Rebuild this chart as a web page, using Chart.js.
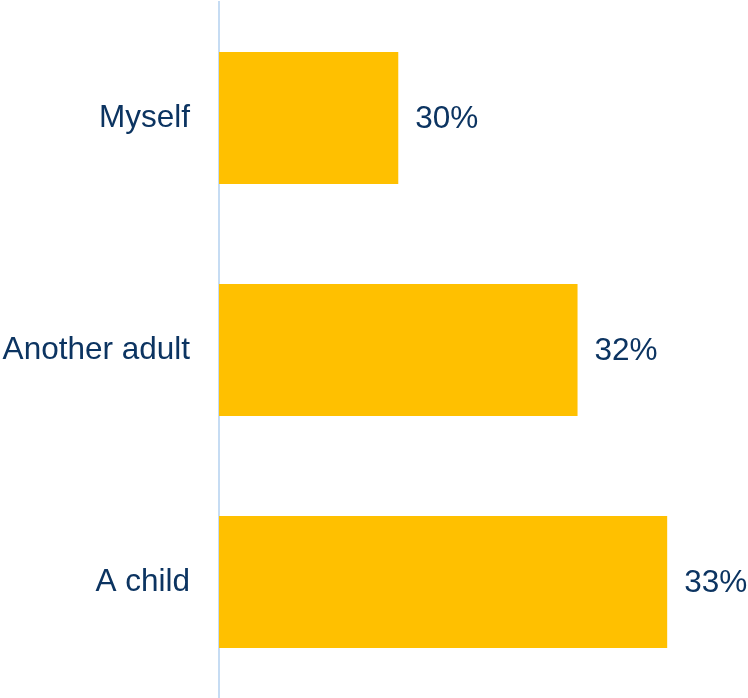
<!DOCTYPE html>
<html>
<head>
<meta charset="utf-8">
<script src="https://cdn.jsdelivr.net/npm/chart.js@4/dist/chart.umd.min.js"></script>
<style>
  html, body { margin: 0; padding: 0; background: #ffffff; }
  #wrap { width: 748px; height: 698px; position: relative; }
</style>
</head>
<body>
<div id="wrap"><canvas id="chart"></canvas></div>
<script>
const categories = ["Myself", "Another adult", "A child"];
const shares = [30, 32, 33];
const valueLabels = ["30%", "32%", "33%"];

const textColor = "#0c3461";
const barColor = "#ffc000";
const fontFamily = "'Liberation Sans', Arial, sans-serif";
const fontSize = 31.5;

// Writes each bar's percentage just past its end
const barValueLabels = {
  id: "barValueLabels",
  afterDatasetsDraw(chart) {
    const ctx = chart.ctx;
    const meta = chart.getDatasetMeta(0);
    ctx.save();
    ctx.font = fontSize + "px " + fontFamily;
    ctx.fillStyle = textColor;
    ctx.textAlign = "left";
    ctx.textBaseline = "middle";
    meta.data.forEach((bar, i) => {
      ctx.fillText(valueLabels[i], bar.x + 17, bar.y + 1);
    });
    ctx.restore();
  }
};

new Chart(document.getElementById("chart"), {
  type: "bar",
  data: {
    labels: categories,
    datasets: [{
      data: shares,
      backgroundColor: barColor,
      borderWidth: 0,
      categoryPercentage: 1,
      barPercentage: 0.569
    }]
  },
  options: {
    indexAxis: "y",
    responsive: true,
    maintainAspectRatio: false,
    animation: false,
    layout: { padding: { top: 2, right: 36, bottom: 0, left: 0 } },
    plugins: {
      legend: { display: false },
      tooltip: { enabled: false }
    },
    scales: {
      x: {
        display: false,
        min: 28,
        max: 33.5
      },
      y: {
        grid: { display: false, drawTicks: false },
        border: { display: true, color: "#c6dcf3", width: 2 },
        ticks: {
          color: textColor,
          font: { family: fontFamily, size: fontSize },
          padding: 29
        },
        afterFit(scale) {
          scale.width = 219;
          scale.paddingTop = 0;
          scale.paddingBottom = 0;
        }
      }
    }
  },
  plugins: [barValueLabels]
});
</script>
</body>
</html>
